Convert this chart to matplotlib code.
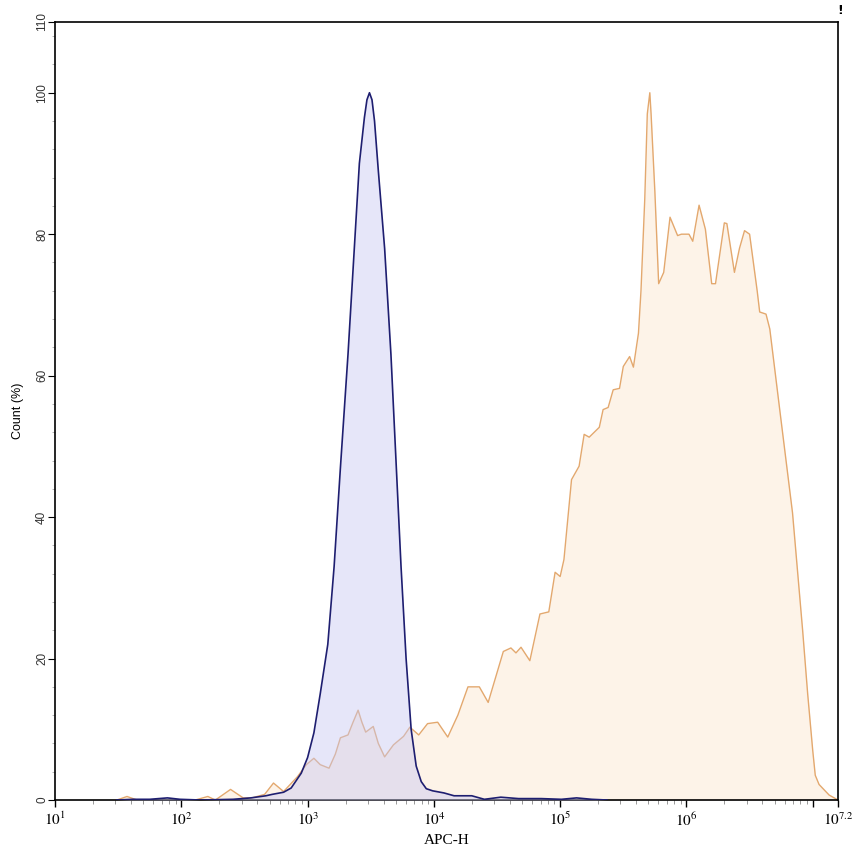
import matplotlib
matplotlib.use("Agg")
import matplotlib.pyplot as plt
from matplotlib.ticker import FixedLocator, NullFormatter
import numpy as np

plt.rcParams['mathtext.fontset'] = 'stix'

# x positions are log10(APC-H), y is Count (%)
blue_x = [1.49, 1.62, 1.75, 1.89, 1.99, 2.15, 2.41, 2.55, 2.67, 2.72, 2.81, 2.87, 2.95,
          3.00, 3.05, 3.10, 3.16, 3.21, 3.26, 3.32, 3.37, 3.41, 3.45, 3.47, 3.49, 3.51,
          3.53, 3.56, 3.61, 3.66, 3.70, 3.74, 3.78, 3.82, 3.86, 3.90, 3.94, 3.99, 4.08,
          4.16, 4.30, 4.40, 4.53, 4.67, 4.85, 5.01, 5.13, 5.25, 5.37]
blue_y = [0, 0.1, 0.1, 0.3, 0.1, 0, 0.1, 0.3, 0.6, 0.8, 1.1, 1.7, 3.8,
          6.0, 9.5, 15, 22, 33, 47, 63, 78, 90, 96.5, 99, 100, 99,
          96, 89, 78, 63, 48, 33, 20, 10, 4.8, 2.6, 1.6, 1.3, 1.0,
          0.6, 0.6, 0.1, 0.4, 0.2, 0.2, 0.1, 0.3, 0.1, 0]

orange_x = [1.49, 1.57, 1.65, 2.11, 2.21, 2.27, 2.39, 2.49, 2.56, 2.66, 2.73, 2.81, 2.92,
            2.99, 3.05, 3.10, 3.17, 3.22, 3.26, 3.32, 3.36, 3.40, 3.43, 3.46, 3.52, 3.56,
            3.61, 3.68, 3.76, 3.81, 3.88, 3.95, 4.03, 4.11, 4.19, 4.27, 4.36, 4.43, 4.49,
            4.55, 4.61, 4.65, 4.69, 4.76, 4.84, 4.91, 4.96, 5.00, 5.03, 5.09, 5.15, 5.19,
            5.23, 5.31, 5.34, 5.38, 5.42, 5.47, 5.50, 5.55, 5.58, 5.62, 5.64, 5.67, 5.69,
            5.71, 5.72, 5.75, 5.78, 5.82, 5.87, 5.93, 5.96, 6.02, 6.05, 6.10, 6.15, 6.20,
            6.23, 6.30, 6.32, 6.38, 6.42, 6.46, 6.50, 6.56, 6.58, 6.63, 6.66, 6.74, 6.84,
            6.92, 6.96, 7.00, 7.02, 7.05, 7.13, 7.20]
orange_y = [0, 0.5, 0, 0, 0.5, 0, 1.5, 0.3, 0.3, 0.8, 2.4, 1.2, 3.3,
            5.0, 5.9, 5.0, 4.5, 6.5, 8.8, 9.2, 11, 12.7, 11, 9.6, 10.4, 8,
            6.1, 7.8, 9.0, 10.3, 9.2, 10.8, 11, 8.9, 12, 16, 16, 13.8, 17.4,
            21, 21.5, 20.8, 21.6, 19.7, 26.3, 26.6, 32.2, 31.6, 34, 45.3, 47.2, 51.7,
            51.3, 52.7, 55.2, 55.5, 58, 58.2, 61.3, 62.7, 61.2, 66, 72, 85, 97,
            100, 97, 86, 73, 74.6, 82.4, 79.8, 80, 80, 79, 84.1, 80.7, 73,
            73, 81.6, 81.5, 74.6, 78, 80.5, 80, 72, 69, 68.7, 66.6, 55, 40.6,
            24, 15, 7, 3.5, 2.2, 0.7, 0]

xtick_exp = [1, 2, 3, 4, 5, 6, 7, 7.2]
xtick_labels = ['$10^{1}$', '$10^{2}$', '$10^{3}$', '$10^{4}$', '$10^{5}$', '$10^{6}$', '', '$10^{7.2}$']
ytick_vals = [0, 20, 40, 60, 80, 100, 110]

fig = plt.figure(figsize=(8.53, 8.56), dpi=100)
ax = fig.add_axes([0.0645, 0.0654, 0.9179, 0.9089])

bx = 10 ** np.array(blue_x)
ox = 10 ** np.array(orange_x)

ax.fill_between(ox, orange_y, color='#fdf3e8', zorder=1, linewidth=0)
ax.plot(ox, orange_y, color='#e3a86e', lw=1.0, zorder=2)
ax.fill_between(bx, blue_y, color='#c8c8f2', alpha=0.45, zorder=3, linewidth=0)
ax.plot(bx, blue_y, color='#1e1e70', lw=1.2, zorder=4)

ax.set_xscale('log')
ax.set_xlim(10 ** 1, 10 ** 7.2)
ax.set_ylim(0, 110)

ax.xaxis.set_major_locator(FixedLocator([10 ** e for e in xtick_exp]))
ax.set_xticklabels(xtick_labels, fontsize=11)
minors = [m * 10 ** d for d in range(1, 8) for m in range(2, 10) if m * 10 ** d < 10 ** 7.2]
ax.xaxis.set_minor_locator(FixedLocator(minors))
ax.xaxis.set_minor_formatter(NullFormatter())

ax.set_yticks(ytick_vals)
ax.set_yticklabels([str(v) for v in ytick_vals], rotation=90, va='center',
                   fontsize=8.5, family='Liberation Sans', color='#333333')
ax.yaxis.set_minor_locator(FixedLocator(np.arange(0, 111, 4)))

ax.tick_params(axis='x', which='major', length=5, width=1, pad=3)
ax.tick_params(axis='x', which='minor', length=3, width=0.6, color='#888888')
ax.tick_params(axis='y', which='major', length=5, width=0.8, pad=0)
ax.tick_params(axis='y', which='minor', length=2.5, width=0.6, color='#aaaaaa')

for s in ax.spines.values():
    s.set_linewidth(1.2)
    s.set_color('black')

ax.set_xlabel('APC-H', fontsize=11, family='Liberation Serif', labelpad=4)
ax.set_ylabel('Count (%)', fontsize=9, family='Liberation Sans', labelpad=9)

fig.text(0.985, 0.988, '!', fontsize=9, fontweight='bold', ha='center', va='center')

fig.savefig('out.png', dpi=100)
